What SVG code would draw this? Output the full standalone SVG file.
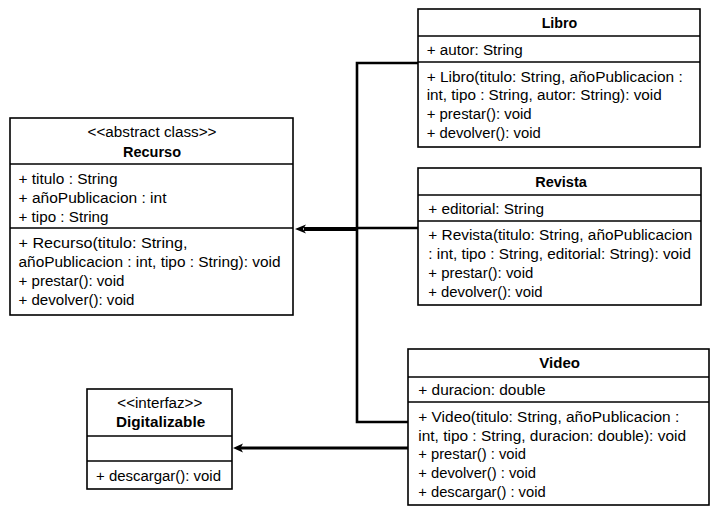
<svg xmlns="http://www.w3.org/2000/svg" width="722" height="522" viewBox="0 0 722 522">
<style>
.box{fill:#fff;stroke:#000;stroke-width:1.6}
.div{stroke:#000;stroke-width:1.6}
text{font-family:"Liberation Sans",Arial,sans-serif;font-size:14px;fill:#000}
.b{font-weight:bold}
.c{text-anchor:middle}
.con{fill:none;stroke:#000;stroke-width:2.6}
</style>
<defs>
<marker id="ah" markerUnits="userSpaceOnUse" markerWidth="12" markerHeight="10" refX="9" refY="4" orient="auto">
<path d="M0,0 L9,4 L0,8 L2,4 Z" fill="#000"/>
</marker>
</defs>
<rect width="722" height="522" fill="#fff"/>
<g id="connectors">
<path class="con" d="M418,63 H357 V422 H408"/>
<path class="con" d="M418,228 H357"/>
<line x1="357" y1="229" x2="304" y2="229" stroke="#000" stroke-width="4"/>
<path d="M295,229 L306,224.5 L303,229 L306,233.5 Z" fill="#000"/>
<line x1="408" y1="448" x2="240" y2="448" stroke="#000" stroke-width="2.8"/>
<path d="M233,448 L243,443.5 L240.5,448 L243,452.5 Z" fill="#000"/>
</g>
<g id="recurso">
<rect class="box" x="10" y="118" width="283" height="197"/>
<line class="div" x1="10" y1="164" x2="293" y2="164"/>
<line class="div" x1="10" y1="228" x2="293" y2="228"/>
<text class="c" x="152" y="136.5" textLength="129" lengthAdjust="spacingAndGlyphs">&lt;&lt;abstract class&gt;&gt;</text>
<text class="c b" x="152" y="156.5" textLength="58" lengthAdjust="spacingAndGlyphs">Recurso</text>
<text x="18.5" y="184" textLength="99" lengthAdjust="spacingAndGlyphs">+ titulo : String</text>
<text x="18.5" y="203" textLength="148" lengthAdjust="spacingAndGlyphs">+ añoPublicacion : int</text>
<text x="18.5" y="221.5" textLength="90" lengthAdjust="spacingAndGlyphs">+ tipo : String</text>
<text x="18.5" y="248" textLength="169" lengthAdjust="spacingAndGlyphs">+ Recurso(titulo: String,</text>
<text x="18.5" y="267" textLength="262" lengthAdjust="spacingAndGlyphs">añoPublicacion : int, tipo : String): void</text>
<text x="18.5" y="286" textLength="106" lengthAdjust="spacingAndGlyphs">+ prestar(): void</text>
<text x="18.5" y="305" textLength="116" lengthAdjust="spacingAndGlyphs">+ devolver(): void</text>
</g>
<g id="libro">
<rect class="box" x="418" y="9" width="282" height="138"/>
<line class="div" x1="418" y1="36" x2="700" y2="36"/>
<line class="div" x1="418" y1="62" x2="700" y2="62"/>
<text class="c b" x="559.5" y="28.3" textLength="35.7" lengthAdjust="spacingAndGlyphs">Libro</text>
<text x="426.7" y="55" textLength="96" lengthAdjust="spacingAndGlyphs">+ autor: String</text>
<text x="426.7" y="81.7" textLength="256" lengthAdjust="spacingAndGlyphs">+ Libro(titulo: String, añoPublicacion :</text>
<text x="426.7" y="100.3" textLength="235" lengthAdjust="spacingAndGlyphs">int, tipo : String, autor: String): void</text>
<text x="426.7" y="119" textLength="105" lengthAdjust="spacingAndGlyphs">+ prestar(): void</text>
<text x="426.7" y="137.7" textLength="114" lengthAdjust="spacingAndGlyphs">+ devolver(): void</text>
</g>
<g id="revista">
<rect class="box" x="418" y="168" width="283" height="137"/>
<line class="div" x1="418" y1="195" x2="701" y2="195"/>
<line class="div" x1="418" y1="221" x2="701" y2="221"/>
<text class="c b" x="561" y="186.7" textLength="51.7" lengthAdjust="spacingAndGlyphs">Revista</text>
<text x="428.3" y="214" textLength="115.7" lengthAdjust="spacingAndGlyphs">+ editorial: String</text>
<text x="428.3" y="240" textLength="264" lengthAdjust="spacingAndGlyphs">+ Revista(titulo: String, añoPublicacion</text>
<text x="428.3" y="259.3" textLength="262.7" lengthAdjust="spacingAndGlyphs">: int, tipo : String, editorial: String): void</text>
<text x="428.3" y="277.7" textLength="105" lengthAdjust="spacingAndGlyphs">+ prestar(): void</text>
<text x="428.3" y="296.7" textLength="114.3" lengthAdjust="spacingAndGlyphs">+ devolver(): void</text>
</g>
<g id="video">
<rect class="box" x="408" y="349" width="301" height="156"/>
<line class="div" x1="408" y1="377" x2="709" y2="377"/>
<line class="div" x1="408" y1="402" x2="709" y2="402"/>
<text class="c b" x="559.7" y="368.3" textLength="40.7" lengthAdjust="spacingAndGlyphs">Video</text>
<text x="418.3" y="395" textLength="127.3" lengthAdjust="spacingAndGlyphs">+ duracion: double</text>
<text x="418.3" y="422.3" textLength="261" lengthAdjust="spacingAndGlyphs">+ Video(titulo: String, añoPublicacion :</text>
<text x="418.3" y="440.7" textLength="267.7" lengthAdjust="spacingAndGlyphs">int, tipo : String, duracion: double): void</text>
<text x="418.3" y="459.3" textLength="107.7" lengthAdjust="spacingAndGlyphs">+ prestar() : void</text>
<text x="418.3" y="478.3" textLength="117.7" lengthAdjust="spacingAndGlyphs">+ devolver() : void</text>
<text x="418.3" y="496.7" textLength="127.3" lengthAdjust="spacingAndGlyphs">+ descargar() : void</text>
</g>
<g id="digitalizable">
<rect class="box" x="87" y="389" width="145" height="100"/>
<line class="div" x1="87" y1="436" x2="232" y2="436"/>
<line class="div" x1="87" y1="461" x2="232" y2="461"/>
<text class="c" x="159.8" y="408.3" textLength="85" lengthAdjust="spacingAndGlyphs">&lt;&lt;interfaz&gt;&gt;</text>
<text class="c b" x="160.6" y="426.7" textLength="89.3" lengthAdjust="spacingAndGlyphs">Digitalizable</text>
<text x="96" y="480.7" textLength="125" lengthAdjust="spacingAndGlyphs">+ descargar(): void</text>
</g>
</svg>
